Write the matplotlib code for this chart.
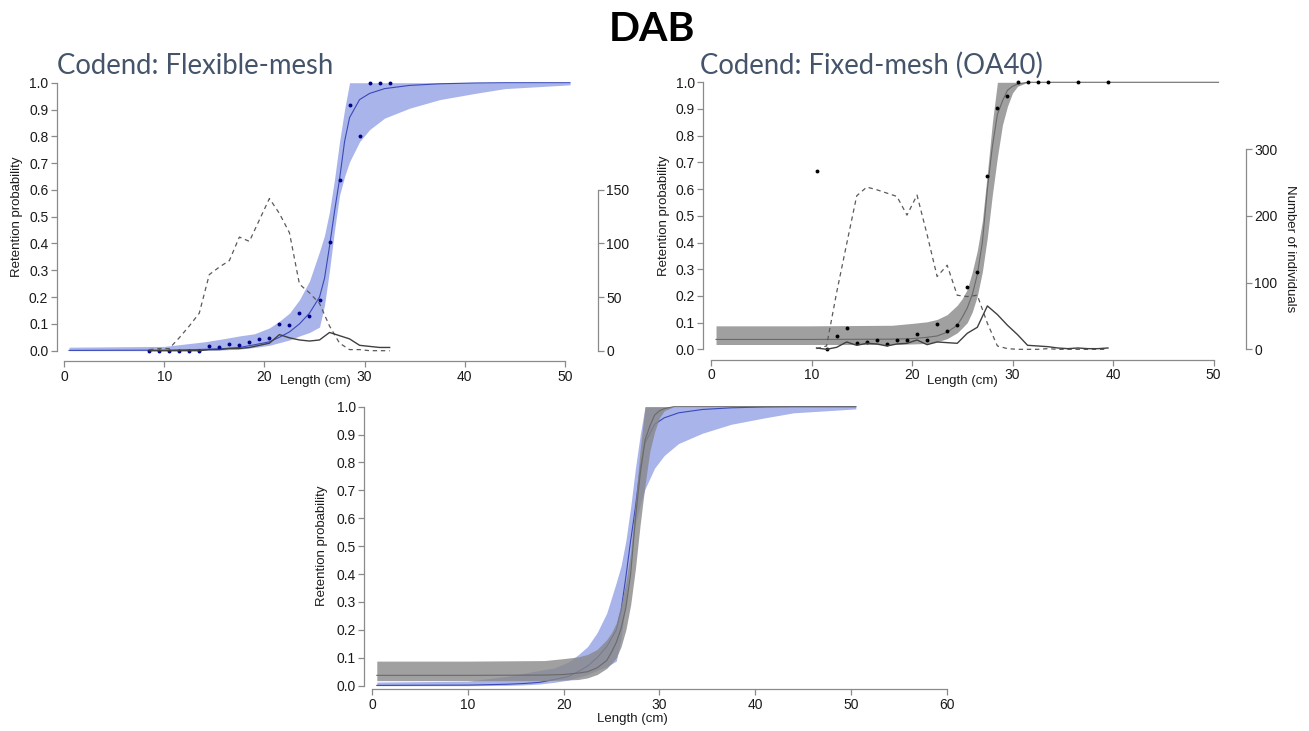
import matplotlib
matplotlib.use("Agg")
import matplotlib.pyplot as plt

W, H = 1309, 731

# ---------------- data: Codend flexible-mesh ----------------
flex_len = [8.5, 9.5, 10.5, 11.5, 12.5, 13.5, 14.5, 15.5, 16.5, 17.5, 18.5, 19.5, 20.5,
            21.5, 22.5, 23.5, 24.5, 25.5, 26.5, 27.5, 28.5, 29.5, 30.5, 31.5, 32.5]
flex_ret = [0, 0, 0, 0, 0, 0, 0.016, 0.012, 0.025, 0.02, 0.031, 0.045, 0.047,
            0.10, 0.094, 0.142, 0.131, 0.188, 0.405, 0.637, 0.917, 0.80, 1, 1, 1]
flex_cover = [1, 2, 2, 12, 23, 35, 71, 78, 84, 106, 102, 122, 142,
              128, 110, 62, 54, 44, 23, 7, 1, 1, 0, 0, 0]
flex_codend = [0, 0, 0, 0, 0, 0, 1, 1, 2, 2, 3, 5, 7,
               15, 12, 10, 9, 10, 17, 14, 11, 5, 4, 3, 3]

flex_fit_len = [0.5, 10, 14, 16, 17.5, 19, 20.5, 21.5, 22.5, 23.5, 24.5, 25.5, 26,
                26.5, 27, 27.5, 28, 28.5, 29.5, 30.5, 32, 34.5, 37.5, 41, 44, 50.5]
flex_fit = [0.001, 0.002, 0.005, 0.008, 0.012, 0.022, 0.033, 0.05, 0.07, 0.10, 0.14, 0.20, 0.27,
            0.39, 0.52, 0.64, 0.78, 0.87, 0.937, 0.96, 0.978, 0.99, 0.996, 0.999, 1.0, 1.0]
flex_up = [0.013, 0.016, 0.033, 0.045, 0.055, 0.063, 0.085, 0.11, 0.14, 0.19, 0.26, 0.37, 0.43,
           0.52, 0.64, 0.78, 0.90, 1.0, 1.0, 1.0, 1.0, 1.0, 1.0, 1.0, 1.0, 1.0]
flex_lo = [0.0, 0.0, 0.001, 0.003, 0.006, 0.012, 0.02, 0.03, 0.04, 0.055, 0.068, 0.088, 0.17,
           0.30, 0.45, 0.58, 0.65, 0.705, 0.78, 0.825, 0.868, 0.905, 0.937, 0.96, 0.978, 0.992]

# ---------------- data: Codend fixed-mesh (OA40) ----------------
fixed_pt_len = [10.5, 11.5, 12.5, 13.5, 14.5, 15.5, 16.5, 17.5, 18.5, 19.5, 20.5, 21.5, 22.5,
                23.5, 24.5, 25.5, 26.5, 27.5, 28.5, 29.5, 30.5, 31.5, 32.5, 33.5, 36.5, 39.5]
fixed_ret = [0.667, 0, 0.05, 0.081, 0.022, 0.026, 0.034, 0.019, 0.035, 0.035, 0.058, 0.034, 0.094,
             0.069, 0.091, 0.232, 0.288, 0.649, 0.903, 0.95, 1, 1, 1, 1, 1, 1]
fixed_len = [10.5, 11.5, 12.5, 13.5, 14.5, 15.5, 16.5, 17.5, 18.5, 19.5, 20.5, 21.5, 22.5, 23.5, 24.5,
             25.5, 26.5, 27.5, 28.5, 29.5, 30.5, 31.5, 32.5, 33.5, 34.5, 35.5, 36.5, 37.5, 38.5, 39.5]
fixed_cover = [1, 5, 85, 158, 230, 243, 239, 234, 229, 201, 231, 172, 109, 126, 81,
               79, 81, 39, 5, 1, 0, 0, 0, 1, 0, 0, 0, 0, 0, 0]
fixed_codend = [2, 0, 3, 11, 6, 9, 8, 5, 8, 9, 14, 7, 11, 10, 9,
                24, 33, 65, 52, 36, 22, 6, 5, 4, 2, 1, 2, 1, 1, 2]

fixed_fit_len = [0.5, 10, 18, 20, 21.5, 22.5, 23.5, 24.5, 25, 25.5, 26, 26.5, 27, 27.5,
                 28, 28.5, 29, 29.5, 30, 30.5, 31.5, 50.5]
fixed_fit = [0.037, 0.037, 0.038, 0.04, 0.045, 0.05, 0.064, 0.09, 0.12, 0.155, 0.205, 0.28, 0.40, 0.60,
             0.76, 0.88, 0.93, 0.97, 0.985, 0.993, 1.0, 1.0]
fixed_up = [0.088, 0.088, 0.09, 0.097, 0.103, 0.112, 0.13, 0.165, 0.19, 0.225, 0.29, 0.37, 0.48, 0.66,
            0.85, 1.0, 1.0, 1.0, 1.0, 1.0, 1.0, 1.0]
fixed_lo = [0.018, 0.018, 0.018, 0.02, 0.022, 0.028, 0.04, 0.062, 0.08, 0.10, 0.14, 0.20, 0.29, 0.42,
            0.58, 0.72, 0.84, 0.91, 0.96, 0.985, 1.0, 1.0]

y_ticks = [0.0, 0.1, 0.2, 0.3, 0.4, 0.5, 0.6, 0.7, 0.8, 0.9, 1.0]

BLUE_BAND = "#a9b4ea"
BLUE_LINE = "#3a49b8"
NAVY = "#000088"
GRAY_BAND = "#888888"
GRAY_LINE = "#6a6a6a"
AXC = "#8a8a8a"
TXT = "#1a1a1a"
TFONT = ["Liberation Sans", "DejaVu Sans"]

fig = plt.figure(figsize=(W / 100, H / 100), dpi=100)


def add_axes_px(l, t, r, b):
    return fig.add_axes([l / W, 1 - b / H, (r - l) / W, (b - t) / H])


def style(ax, xmax, xticks):
    for s in ["top", "right"]:
        ax.spines[s].set_visible(False)
    for s in ["left", "bottom"]:
        ax.spines[s].set_color(AXC)
        ax.spines[s].set_linewidth(0.9)
    ax.spines["left"].set_bounds(0, 1)
    ax.spines["bottom"].set_bounds(0, xmax)
    ax.set_yticks(y_ticks)
    ax.set_yticklabels([f"{v:.1f}" for v in y_ticks])
    ax.set_xticks(xticks)
    ax.tick_params(direction="out", length=4, width=0.9, color=AXC, labelsize=10,
                   labelcolor=TXT, pad=2)
    for lab in ax.get_xticklabels() + ax.get_yticklabels():
        lab.set_family(TFONT)
    ax.patch.set_alpha(0)


def count_axis(ax, cmax, top, ticks):
    a2 = ax.twinx()
    a2.set_ylim(-0.04 * cmax, 1.04 * cmax)
    for s in ["top", "left", "bottom"]:
        a2.spines[s].set_visible(False)
    a2.spines["right"].set_color(AXC)
    a2.spines["right"].set_linewidth(0.9)
    a2.spines["right"].set_bounds(0, top)
    a2.set_yticks(ticks)
    a2.tick_params(direction="out", length=4, width=0.9, color=AXC, labelsize=10,
                   labelcolor=TXT, pad=2)
    for lab in a2.get_yticklabels():
        lab.set_family(TFONT)
    return a2


# ---------------- panel 1 ----------------
x0, sc = 64.0, 10.02
l, r = 56.7, 597.7
ax1 = add_axes_px(l, 72.0, r, 361.4)
ax1.set_xlim((l - x0) / sc, (r - x0) / sc)
ax1.set_ylim(-0.04, 1.04)
ax1.fill_between(flex_fit_len, flex_lo, flex_up, color=BLUE_BAND, lw=0, zorder=1)
ax1.plot(flex_fit_len, flex_fit, color=BLUE_LINE, lw=0.8, zorder=2)
ax1.plot(flex_len, flex_ret, "o", color=NAVY, ms=2.8, mew=0, zorder=4)
style(ax1, 50, [0, 10, 20, 30, 40, 50])
a12 = count_axis(ax1, 250, 150, [0, 50, 100, 150])
a12.plot(flex_len, flex_cover, color="#5a5a5a", lw=0.9, ls=(0, (3.5, 3)))
a12.plot(flex_len, flex_codend, color="#404040", lw=1.0)

# ---------------- panel 2 ----------------
x0, sc = 711.0, 10.05
l, r = 703.3, 1246.0
ax2 = add_axes_px(l, 71.6, r, 360.0)
ax2.set_xlim((l - x0) / sc, (r - x0) / sc)
ax2.set_ylim(-0.04, 1.04)
ax2.fill_between(fixed_fit_len, fixed_lo, fixed_up, color=GRAY_BAND, alpha=0.8, lw=0, zorder=1)
ax2.plot(fixed_fit_len, fixed_fit, color=GRAY_LINE, lw=0.8, zorder=2)
ax2.plot(fixed_pt_len, fixed_ret, "o", color="black", ms=2.8, mew=0, zorder=4)
style(ax2, 50, [0, 10, 20, 30, 40, 50])
a22 = count_axis(ax2, 400, 300, [0, 100, 200, 300])
a22.plot(fixed_len, fixed_cover, color="#5a5a5a", lw=0.9, ls=(0, (3.5, 3)))
a22.plot(fixed_len, fixed_codend, color="#404040", lw=1.0)

# ---------------- panel 3 ----------------
x0, sc = 372.0, 9.58
l, r = 364.3, 960.0
ax3 = add_axes_px(l, 403.9, r, 689.3)
ax3.set_xlim((l - x0) / sc, (r - x0) / sc)
ax3.set_ylim(-0.013, 1.01)
ax3.fill_between(flex_fit_len, flex_lo, flex_up, color=BLUE_BAND, lw=0, zorder=1)
ax3.plot(flex_fit_len, flex_fit, color=BLUE_LINE, lw=0.8, zorder=2)
ax3.fill_between(fixed_fit_len, fixed_lo, fixed_up, color=GRAY_BAND, alpha=0.8, lw=0, zorder=3)
ax3.plot(fixed_fit_len, fixed_fit, color=GRAY_LINE, lw=0.8, zorder=4)
style(ax3, 60, [0, 10, 20, 30, 40, 50, 60])

# ---------------- text ----------------
lab = dict(fontsize=9.5, color=TXT, family=TFONT)
fig.text(315 / W, 1 - 381 / H, "Length (cm)", ha="center", va="center", **lab)
fig.text(962 / W, 1 - 381 / H, "Length (cm)", ha="center", va="center", **lab)
fig.text(632 / W, 1 - 719 / H, "Length (cm)", ha="center", va="center", **lab)
fig.text(17 / W, 1 - 217 / H, "Retention probability", rotation=90, ha="center", va="center", **lab)
fig.text(664 / W, 1 - 216 / H, "Retention probability", rotation=90, ha="center", va="center", **lab)
fig.text(322 / W, 1 - 546 / H, "Retention probability", rotation=90, ha="center", va="center", **lab)
fig.text(1290 / W, 1 - 249 / H, "Number of individuals", rotation=270, ha="center", va="center", **lab)

tfont = ["Lato", "DejaVu Sans"]
fig.text(57 / W, 1 - 73.5 / H, "Codend: Flexible-mesh", fontsize=19.8, color="#44546a",
         family=tfont, ha="left", va="baseline")
fig.text(700 / W, 1 - 73.5 / H, "Codend: Fixed-mesh (OA40)", fontsize=19.8, color="#44546a",
         family=tfont, ha="left", va="baseline")
fig.text(652 / W, 1 - 41 / H, "DAB", fontsize=29.5, fontweight="bold", color="black",
         family=tfont, ha="center", va="baseline")

fig.savefig("out.png", dpi=100)
